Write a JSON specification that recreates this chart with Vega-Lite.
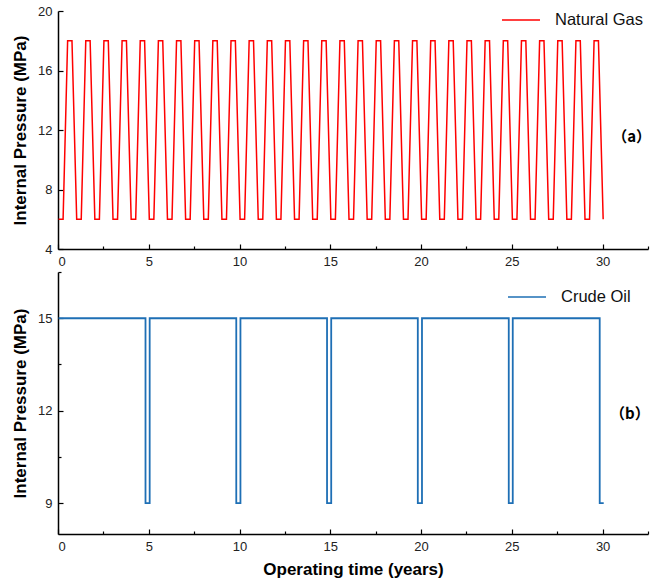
{
  "$schema": "https://vega.github.io/schema/vega-lite/v6.json",
  "background": "white",
  "padding": {"left": 11, "top": 0, "right": 5, "bottom": 5},
  "config": {
    "view": {"stroke": null},
    "font": "Liberation Sans",
    "axis": {
      "grid": false,
      "domainColor": "#000000",
      "domainWidth": 1.5,
      "tickColor": "#000000",
      "tickWidth": 1.2,
      "labelFont": "Liberation Sans",
      "labelFontSize": 13,
      "labelColor": "#222222",
      "labelPadding": 11,
      "titleFont": "Liberation Sans",
      "titleFontSize": 17,
      "titleFontWeight": "bold",
      "titleColor": "#000000"
    },
    "legend": {
      "orient": "none",
      "title": null,
      "symbolType": "stroke",
      "symbolSize": 1444,
      "symbolStrokeWidth": 1.6,
      "labelFont": "Liberation Sans",
      "labelFontSize": 16.5,
      "labelColor": "#111111",
      "labelOffset": 14,
      "padding": 0
    }
  },
  "datasets": {
    "gas": [
      {"t":0.03,"p":6},
      {"t":0.28,"p":6},{"t":0.53,"p":18},{"t":0.77,"p":18},{"t":1.03,"p":6},
      {"t":1.28,"p":6},{"t":1.53,"p":18},{"t":1.77,"p":18},{"t":2.03,"p":6},
      {"t":2.28,"p":6},{"t":2.53,"p":18},{"t":2.77,"p":18},{"t":3.03,"p":6},
      {"t":3.28,"p":6},{"t":3.53,"p":18},{"t":3.77,"p":18},{"t":4.03,"p":6},
      {"t":4.28,"p":6},{"t":4.53,"p":18},{"t":4.77,"p":18},{"t":5.03,"p":6},
      {"t":5.28,"p":6},{"t":5.53,"p":18},{"t":5.77,"p":18},{"t":6.03,"p":6},
      {"t":6.28,"p":6},{"t":6.53,"p":18},{"t":6.77,"p":18},{"t":7.03,"p":6},
      {"t":7.28,"p":6},{"t":7.53,"p":18},{"t":7.77,"p":18},{"t":8.03,"p":6},
      {"t":8.28,"p":6},{"t":8.53,"p":18},{"t":8.77,"p":18},{"t":9.03,"p":6},
      {"t":9.28,"p":6},{"t":9.53,"p":18},{"t":9.77,"p":18},{"t":10.03,"p":6},
      {"t":10.28,"p":6},{"t":10.53,"p":18},{"t":10.77,"p":18},{"t":11.03,"p":6},
      {"t":11.28,"p":6},{"t":11.53,"p":18},{"t":11.77,"p":18},{"t":12.03,"p":6},
      {"t":12.28,"p":6},{"t":12.53,"p":18},{"t":12.77,"p":18},{"t":13.03,"p":6},
      {"t":13.28,"p":6},{"t":13.53,"p":18},{"t":13.77,"p":18},{"t":14.03,"p":6},
      {"t":14.28,"p":6},{"t":14.53,"p":18},{"t":14.77,"p":18},{"t":15.03,"p":6},
      {"t":15.28,"p":6},{"t":15.53,"p":18},{"t":15.77,"p":18},{"t":16.03,"p":6},
      {"t":16.28,"p":6},{"t":16.53,"p":18},{"t":16.77,"p":18},{"t":17.03,"p":6},
      {"t":17.28,"p":6},{"t":17.53,"p":18},{"t":17.77,"p":18},{"t":18.03,"p":6},
      {"t":18.28,"p":6},{"t":18.53,"p":18},{"t":18.77,"p":18},{"t":19.03,"p":6},
      {"t":19.28,"p":6},{"t":19.53,"p":18},{"t":19.77,"p":18},{"t":20.03,"p":6},
      {"t":20.28,"p":6},{"t":20.53,"p":18},{"t":20.77,"p":18},{"t":21.03,"p":6},
      {"t":21.28,"p":6},{"t":21.53,"p":18},{"t":21.77,"p":18},{"t":22.03,"p":6},
      {"t":22.28,"p":6},{"t":22.53,"p":18},{"t":22.77,"p":18},{"t":23.03,"p":6},
      {"t":23.28,"p":6},{"t":23.53,"p":18},{"t":23.77,"p":18},{"t":24.03,"p":6},
      {"t":24.28,"p":6},{"t":24.53,"p":18},{"t":24.77,"p":18},{"t":25.03,"p":6},
      {"t":25.28,"p":6},{"t":25.53,"p":18},{"t":25.77,"p":18},{"t":26.03,"p":6},
      {"t":26.28,"p":6},{"t":26.53,"p":18},{"t":26.77,"p":18},{"t":27.03,"p":6},
      {"t":27.28,"p":6},{"t":27.53,"p":18},{"t":27.77,"p":18},{"t":28.03,"p":6},
      {"t":28.28,"p":6},{"t":28.53,"p":18},{"t":28.77,"p":18},{"t":29.03,"p":6},
      {"t":29.28,"p":6},{"t":29.53,"p":18},{"t":29.77,"p":18},{"t":30.03,"p":6}
    ],
    "oil": [
      {"t":0.03,"p":15},
      {"t":4.82,"p":15},{"t":4.82,"p":9},{"t":5.05,"p":9},{"t":5.05,"p":15},
      {"t":9.82,"p":15},{"t":9.82,"p":9},{"t":10.05,"p":9},{"t":10.05,"p":15},
      {"t":14.82,"p":15},{"t":14.82,"p":9},{"t":15.05,"p":9},{"t":15.05,"p":15},
      {"t":19.82,"p":15},{"t":19.82,"p":9},{"t":20.05,"p":9},{"t":20.05,"p":15},
      {"t":24.83,"p":15},{"t":24.83,"p":9},{"t":25.05,"p":9},{"t":25.05,"p":15},
      {"t":29.84,"p":15},{"t":29.84,"p":9},{"t":30.06,"p":9}
    ],
    "labA": [{"t":31.6,"p":11.5,"label":"（a）"}],
    "labB": [{"t":31.5,"p":11.9,"label":"（b）"}]
  },
  "bounds": "flush",
  "spacing": 23,
  "vconcat": [
    {
      "width": 590,
      "height": 238,
      "layer": [
        {
          "data": {"name": "gas"},
          "mark": {"type": "line", "strokeWidth": 1.5, "clip": false},
          "encoding": {
            "x": {
              "field": "t", "type": "quantitative",
              "scale": {"domain": [0, 32.5], "nice": false, "zero": false},
              "axis": {
                "title": null,
                "values": [0,2.5,5,7.5,10,12.5,15,17.5,20,22.5,25,27.5,30,32.5],
                "labelExpr": "datum.value % 5 === 0 ? datum.label : ''",
                "tickSize": {"condition": {"test": "datum.value % 5 === 0", "value": -5}, "value": -3}
              }
            },
            "y": {
              "field": "p", "type": "quantitative",
              "scale": {"domain": [4, 20], "nice": false, "zero": false},
              "axis": {
                "title": "Internal Pressure (MPa)",
                "titlePadding": 8,
                "values": [4,6,8,10,12,14,16,18,20],
                "labelExpr": "datum.value % 4 === 0 ? datum.label : ''",
                "tickSize": {"condition": {"test": "datum.value % 4 === 0", "value": -5}, "value": -3}
              }
            },
            "color": {
              "datum": "Natural Gas",
              "scale": {"domain": ["Natural Gas"], "range": ["#ff0000"]},
              "legend": {"legendX": 443, "legendY": -11}
            }
          }
        },
        {
          "data": {"name": "labA"},
          "mark": {"type": "text", "font": "Noto Sans CJK SC", "fontSize": 15, "fontWeight": "bold", "color": "#000000"},
          "encoding": {
            "x": {"field": "t", "type": "quantitative"},
            "y": {"field": "p", "type": "quantitative"},
            "text": {"field": "label"}
          }
        }
      ]
    },
    {
      "width": 590,
      "height": 262,
      "layer": [
        {
          "data": {"name": "oil"},
          "mark": {"type": "line", "strokeWidth": 1.8, "clip": false},
          "encoding": {
            "x": {
              "field": "t", "type": "quantitative",
              "scale": {"domain": [0, 32.5], "nice": false, "zero": false},
              "axis": {
                "title": "Operating time (years)",
                "titlePadding": 8,
                "values": [0,2.5,5,7.5,10,12.5,15,17.5,20,22.5,25,27.5,30,32.5],
                "labelExpr": "datum.value % 5 === 0 ? datum.label : ''",
                "tickSize": {"condition": {"test": "datum.value % 5 === 0", "value": -5}, "value": -3}
              }
            },
            "y": {
              "field": "p", "type": "quantitative",
              "scale": {"domain": [8, 16.5], "nice": false, "zero": false},
              "axis": {
                "title": "Internal Pressure (MPa)",
                "titlePadding": 8,
                "values": [9,10.5,12,13.5,15,16.5],
                "labelExpr": "datum.value % 3 === 0 ? datum.label : ''",
                "tickSize": {"condition": {"test": "datum.value % 3 === 0", "value": -5}, "value": -3}
              }
            },
            "order": {"value": null},
            "color": {
              "datum": "Crude Oil",
              "scale": {"domain": ["Crude Oil"], "range": ["#1e6fb5"]},
              "legend": {"legendX": 449, "legendY": 5}
            }
          }
        },
        {
          "data": {"name": "labB"},
          "mark": {"type": "text", "font": "Noto Sans CJK SC", "fontSize": 15, "fontWeight": "bold", "color": "#000000"},
          "encoding": {
            "x": {"field": "t", "type": "quantitative"},
            "y": {"field": "p", "type": "quantitative"},
            "text": {"field": "label"}
          }
        }
      ]
    }
  ],
  "resolve": {"scale": {"color": "independent"}}
}
